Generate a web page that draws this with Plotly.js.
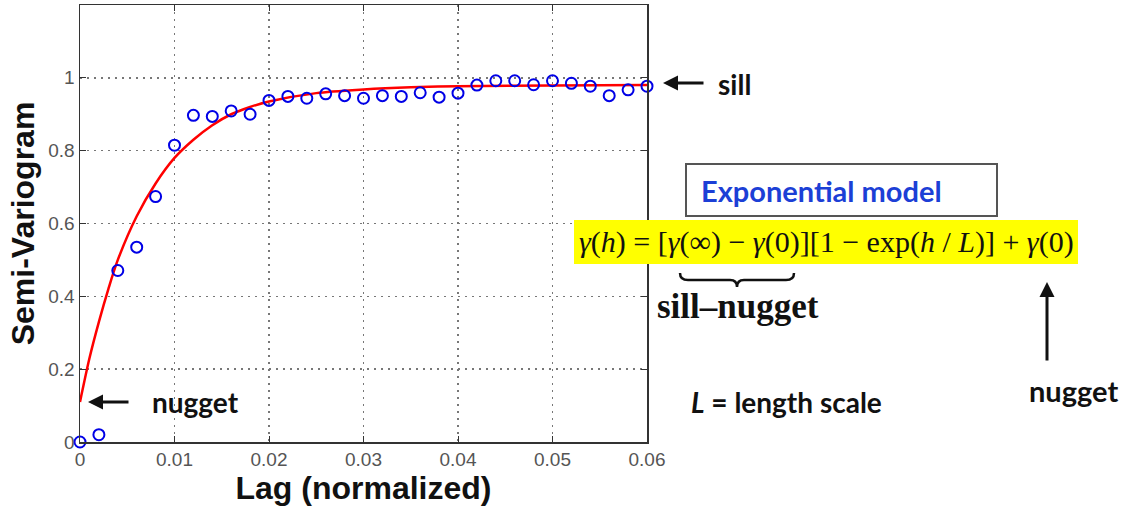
<!DOCTYPE html>
<html>
<head>
<meta charset="utf-8">
<script src="https://cdn.plot.ly/plotly-3.0.1.min.js"></script>
<style>html,body{margin:0;padding:0;background:#fff;}#chart{width:1125px;height:510px;}</style>
</head>
<body>
<div id="chart"></div>
<script>
// Empirical semi-variogram (blue circles)
const lag = [0, 0.002, 0.004, 0.006, 0.008, 0.010, 0.012, 0.014, 0.016, 0.018,
             0.020, 0.022, 0.024, 0.026, 0.028, 0.030, 0.032, 0.034, 0.036, 0.038,
             0.040, 0.042, 0.044, 0.046, 0.048, 0.050, 0.052, 0.054, 0.056, 0.058, 0.060];
const semivar = [0, 0.02, 0.471, 0.535, 0.674, 0.815, 0.897, 0.894, 0.909, 0.900,
                 0.938, 0.949, 0.944, 0.956, 0.951, 0.944, 0.951, 0.949, 0.959, 0.947,
                 0.958, 0.980, 0.992, 0.992, 0.981, 0.992, 0.985, 0.977, 0.951, 0.967, 0.977];
// Fitted exponential model (red curve)
const modelLag = [0, 0.001, 0.002, 0.003, 0.004, 0.006, 0.008, 0.010, 0.012, 0.014,
                  0.016, 0.018, 0.020, 0.025, 0.030, 0.035, 0.040, 0.050, 0.060];
const modelVal = [0.11, 0.23, 0.33, 0.42, 0.50, 0.62, 0.71, 0.78, 0.83, 0.87,
                  0.90, 0.92, 0.935, 0.958, 0.968, 0.974, 0.977, 0.979, 0.980];
const xTicks = [0, 0.01, 0.02, 0.03, 0.04, 0.05, 0.06];
const xTickText = ['0', '0.01', '0.02', '0.03', '0.04', '0.05', '0.06'];
const yTicks = [0, 0.2, 0.4, 0.6, 0.8, 1];
const yTickText = ['0', '0.2', '0.4', '0.6', '0.8', '1'];

const W = 1125, H = 510;
const M = {l: 80, r: 478, t: 5, b: 68};
const PW = W - M.l - M.r, PH = H - M.t - M.b;
const px = x => (x - M.l) / PW;
const py = y => (H - M.b - y) / PH;

const traces = [
  {x: modelLag, y: modelVal, type: 'scatter', mode: 'lines',
   line: {color: '#ff0000', width: 2.5, shape: 'spline', smoothing: 0.8},
   hoverinfo: 'skip'},
  {x: lag, y: semivar, type: 'scatter', mode: 'markers', cliponaxis: false,
   marker: {symbol: 'circle-open', size: 11, color: '#0000e6', line: {width: 2, color: '#0000e6'}}}
];

const sans = 'Lato, "Open Sans", sans-serif';
const serif = '"Liberation Serif", "DejaVu Serif", serif';

const bx1 = 680, bx2 = 794, bm = (bx1 + bx2) / 2, by1 = 273, by2 = 280, by3 = 287;
const brace = `M ${px(bx1)},${py(by1)} Q ${px(bx1)},${py(by2)} ${px(bx1+8)},${py(by2)} L ${px(bm-7)},${py(by2)} Q ${px(bm)},${py(by2)} ${px(bm)},${py(by3)} Q ${px(bm)},${py(by2)} ${px(bm+7)},${py(by2)} L ${px(bx2-8)},${py(by2)} Q ${px(bx2)},${py(by2)} ${px(bx2)},${py(by1)}`;

const layout = {
  width: W, height: H, margin: M, showlegend: false,
  paper_bgcolor: '#ffffff', plot_bgcolor: '#ffffff',
  font: {family: '"Liberation Sans", Arial, sans-serif', color: '#555'},
  xaxis: {range: [0, 0.06], tickvals: xTicks, ticktext: xTickText,
          showline: true, mirror: 'ticks', linecolor: '#333', linewidth: 1.5,
          ticks: 'inside', ticklen: 6, tickcolor: '#333',
          showgrid: true, gridcolor: '#777', griddash: '2px,5px', gridwidth: 1.5, zeroline: false,
          tickfont: {size: 19, color: '#555'},
          title: {text: '<b>Lag (normalized)</b>', font: {size: 32, color: '#111', family: '"Liberation Sans", Arial, sans-serif'}, standoff: 4}},
  yaxis: {range: [0, 1.2], tickvals: yTicks, ticktext: yTickText,
          showline: true, mirror: 'ticks', linecolor: '#333', linewidth: 1.5,
          ticks: 'inside', ticklen: 6, tickcolor: '#333',
          showgrid: true, gridcolor: '#777', griddash: '2px,5px', gridwidth: 1.5, zeroline: false,
          tickfont: {size: 19, color: '#555'},
          title: {text: '<b>Semi-Variogram</b>', font: {size: 32, color: '#111', family: '"Liberation Sans", Arial, sans-serif'}, standoff: 4}},
  shapes: [
    {type: 'rect', xref: 'paper', yref: 'paper', x0: px(686), x1: px(997), y0: py(216), y1: py(164),
     line: {color: '#555', width: 2}, fillcolor: '#ffffff'},
    {type: 'rect', xref: 'paper', yref: 'paper', x0: px(574), x1: px(1078), y0: py(264), y1: py(220),
     line: {width: 0}, fillcolor: '#ffff00'},
    {type: 'path', xref: 'paper', yref: 'paper', path: brace, line: {color: '#111', width: 2.5}}
  ],
  annotations: [
    // arrows
    {xref: 'paper', yref: 'paper', x: px(663), y: py(83), ax: 42, ay: 0, text: '', showarrow: true,
     arrowhead: 2, arrowsize: 1, arrowwidth: 3, arrowcolor: '#111'},
    {xref: 'paper', yref: 'paper', x: px(88), y: py(402), ax: 42, ay: 0, text: '', showarrow: true,
     arrowhead: 2, arrowsize: 1, arrowwidth: 3, arrowcolor: '#111'},
    {xref: 'paper', yref: 'paper', x: px(1047), y: py(282), ax: 0, ay: 80, text: '', showarrow: true,
     arrowhead: 2, arrowsize: 1, arrowwidth: 3, arrowcolor: '#111'},
    // labels
    {xref: 'paper', yref: 'paper', x: px(716), y: py(84), xanchor: 'left', yanchor: 'middle', showarrow: false,
     text: '<b>sill</b>', font: {family: sans, size: 28, color: '#111'}},
    {xref: 'paper', yref: 'paper', x: px(150), y: py(402), xanchor: 'left', yanchor: 'middle', showarrow: false,
     text: '<b>nugget</b>', font: {family: sans, size: 28, color: '#111'}},
    {xref: 'paper', yref: 'paper', x: px(699), y: py(190), xanchor: 'left', yanchor: 'middle', showarrow: false,
     text: '<b>Exponential model</b>', font: {family: sans, size: 29, color: '#1c3fd6'}},
    {xref: 'paper', yref: 'paper', x: px(826), y: py(242), xanchor: 'center', yanchor: 'middle', showarrow: false,
     text: '<i>γ</i>(<i>h</i>) = [<i>γ</i>(∞) − <i>γ</i>(0)][1 − exp(<i>h</i> / <i>L</i>)] + <i>γ</i>(0)',
     font: {family: serif, size: 30, color: '#111'}},
    {xref: 'paper', yref: 'paper', x: px(655), y: py(306), xanchor: 'left', yanchor: 'middle', showarrow: false,
     text: '<b>sill–nugget</b>', font: {family: serif, size: 35, color: '#111'}},
    {xref: 'paper', yref: 'paper', x: px(689), y: py(402), xanchor: 'left', yanchor: 'middle', showarrow: false,
     text: '<b><i>L</i> = length scale</b>', font: {family: sans, size: 28, color: '#111'}},
    {xref: 'paper', yref: 'paper', x: px(1073), y: py(390), xanchor: 'center', yanchor: 'middle', showarrow: false,
     text: '<b>nugget</b>', font: {family: sans, size: 29, color: '#111'}}
  ]
};

Plotly.newPlot('chart', traces, layout, {displayModeBar: false, staticPlot: true});
</script>
</body>
</html>
